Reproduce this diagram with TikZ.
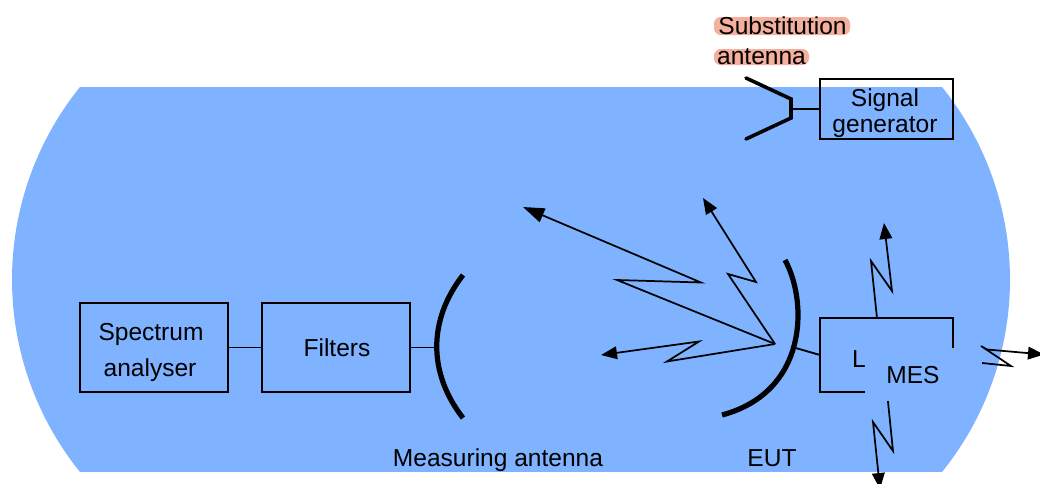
\documentclass[tikz,border=0pt]{standalone}
\usepackage{fontspec}
\setmainfont{Liberation Sans}
\usetikzlibrary{arrows.meta}
\definecolor{roomblue}{HTML}{7FB2FF}
\definecolor{hl}{HTML}{F4B09C}
\tikzset{
  px/.style={x=0.75pt,y=-0.75pt},
  lbl/.style={anchor=base,inner sep=0pt,font=\fontsize{18.4}{22}\selectfont},
  boxn/.style={draw=black,line width=1.5pt,inner sep=0pt,outer sep=0pt},
  wire/.style={line width=1.4pt},
  dish/.style={line width=3.9pt},
  ray/.style={line width=1.3pt,line join=miter,miter limit=20},
  bighead/.style={-{Triangle[length=16pt,width=11pt]}},
  smallhead/.style={-{Triangle[length=12pt,width=9.5pt]}},
}
\begin{document}
\begin{tikzpicture}[px]
\useasboundingbox (0,0) rectangle (1040,483);
\clip (0,0) rectangle (1040,483);
% room
\fill[roomblue] plot[domain=-38.9:38.9,samples=60] ({318.5-306.5*cos(\x)},{279.5+306.5*sin(\x)})
  -- plot[domain=38.9:-38.9,samples=60] ({703.5+306.5*cos(\x)},{279.5+306.5*sin(\x)}) -- cycle;
% highlight behind substitution antenna label
\fill[hl,rounded corners=5pt] (714,17) rectangle (850,35);
\fill[hl,rounded corners=5pt] (714,49) rectangle (809,65);
\node[lbl] (subs) at (782.5,34) {Substitution};
\node[lbl] (ante) at (761.5,64) {antenna};
% boxes
\node[boxn,minimum width=148*0.75pt,minimum height=89*0.75pt] (spec) at (154,347.5) {};
\node[boxn,minimum width=148*0.75pt,minimum height=89*0.75pt] (filt) at (336,347.5) {};
\node[boxn,minimum width=133*0.75pt,minimum height=60*0.75pt] (sign) at (886.5,109) {};
\node[boxn,minimum width=133*0.75pt,minimum height=74*0.75pt] (lbox) at (886.5,355) {};
\node[lbl] (t1) at (151,340) {Spectrum};
\node[lbl] (t2) at (150,376) {analyser};
\node[lbl] (t3) at (337,356.5) {Filters};
\node[lbl] (t4) at (885,106) {Signal};
\node[lbl] (t5) at (885,132) {generator};
\node[lbl] (t6) at (859,367) {L};
\node[lbl] (t7) at (498,466) {Measuring antenna};
\node[lbl] (t8) at (772,466) {EUT};
% antennas
\coordinate (hornmid) at (791,109);
\draw[line width=2.7pt,line cap=round,line join=miter] (746,78) -- (791,99) -- (791,118) -- (746,139);
\draw[wire] (hornmid) -- (sign.west);
\coordinate (mdish) at (437,347.5);
\draw[dish] (463,275) .. controls (428,320) and (428,373) .. (463,418);
\draw[wire] (spec.east) -- (filt.west);
\draw[wire] (filt.east) -- (mdish);
\coordinate (edish) at (794,347.5);
\draw[dish] (785,260) .. controls (808,302) and (808,392) .. (722,415);
\draw[wire] (edish) -- (lbox.west);
% rays from EUT
\coordinate (src) at (775,344);
\draw[ray,bighead] (src) -- (617,280) -- (701,282.5) -- (523,207);
\draw[ray,smallhead] (src) -- (728,274) -- (756,282) -- (703,198);
\draw[ray,smallhead] (src) -- (667,361.5) -- (699,341.5) -- (601,355);
% rays from the box
\coordinate (ltop) at (877,318);
\coordinate (lbot) at (887,392);
\coordinate (lright) at (953,360);
\draw[ray,smallhead] (ltop) -- (871,261) -- (892,291) -- (884,223);
\draw[ray,smallhead] (lbot) -- (893,451) -- (873,422) -- (880,489);
\draw[ray,smallhead] (lright) -- (1011,366) -- (981,346) -- (987,349.5) -- (1044,354.5);
% cover over the box corner
\node[fill=roomblue,inner sep=0pt,minimum width=117*0.75pt,minimum height=53*0.75pt] (cover) at (923.5,374.5) {};
\node[lbl] (mes) at (913,383) {MES};
\end{tikzpicture}
\end{document}
